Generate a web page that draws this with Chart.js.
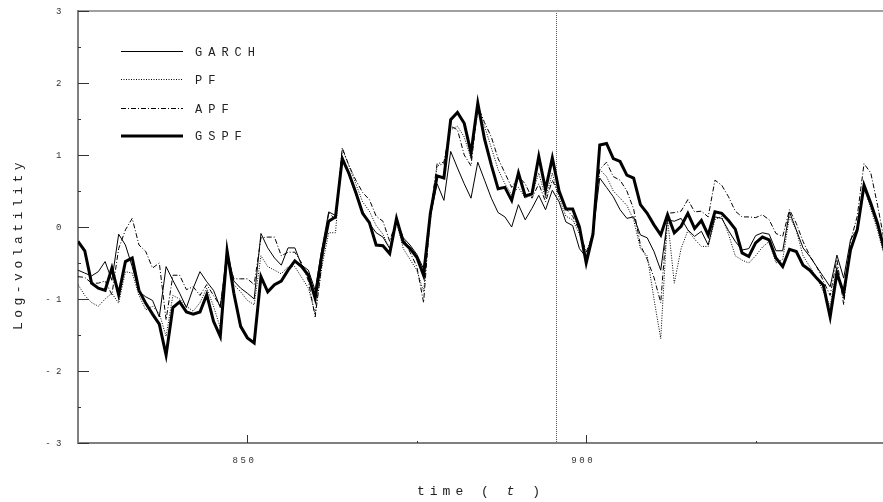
<!DOCTYPE html>
<html>
<head>
<meta charset="utf-8">
<script src="https://cdn.jsdelivr.net/npm/chart.js@4.4.1/dist/chart.umd.min.js"></script>
<style>
  html, body { margin:0; padding:0; background:#fff; overflow:hidden; }
  #wrap { position:relative; width:883px; height:502px; }
</style>
</head>
<body>
<div id="wrap"><canvas id="chartVol"></canvas></div>
<script>
// time axis starts at t = 825, one observation per step
const tStart = 825;
const xTicks = [850, 900];
const xMinorTicks = [875, 925];
const yTicks = [-3, -2, -1, 0, 1, 2, 3];
const yMinorTicks = [-2.5, -1.5, -0.5, 0.5, 1.5, 2.5];
const splitAt = 895.5;

const garch = [
  -0.60, -0.64, -0.68, -0.62, -0.48, -0.74, -0.10, -0.25, -0.55, -0.90,
  -0.97, -1.02, -1.25, -0.55, -0.74, -0.92, -1.12, -0.85, -0.62, -0.76,
  -0.88, -1.12, -0.32, -0.75, -0.85, -0.92, -1.00, -0.09, -0.29, -0.43,
  -0.53, -0.29, -0.29, -0.53, -0.60, -0.88, -0.30, 0.21, 0.16, 0.98,
  0.72, 0.45, 0.22, 0.05, -0.08, -0.14, -0.30, 0.10, -0.15, -0.25,
  -0.38, -0.58, 0.15, 0.60, 0.37, 1.05, 0.82, 0.60, 0.40, 0.90,
  0.65, 0.40, 0.20, 0.14, 0.00, 0.31, 0.10, 0.26, 0.44, 0.24,
  0.51, 0.35, 0.07, 0.02, -0.30, -0.42, -0.09, 0.68, 0.55, 0.42,
  0.24, 0.12, 0.14, -0.11, -0.15, -0.34, -0.60, 0.10, 0.08, 0.12,
  -0.04, -0.13, -0.06, -0.25, 0.14, 0.12, -0.05, -0.20, -0.32, -0.30,
  -0.12, -0.08, -0.10, -0.33, -0.33, 0.21, -0.04, -0.29, -0.41, -0.55,
  -0.69, -0.83, -0.39, -0.71, -0.18, -0.02, 0.54, 0.30, 0.02, -0.30
];
const pf = [
  -0.80, -0.95, -1.05, -1.10, -1.00, -0.92, -1.06, -0.62, -0.64, -0.95,
  -1.15, -1.10, -1.20, -1.52, -0.95, -1.00, -1.10, -1.17, -1.05, -0.85,
  -1.10, -1.40, -0.38, -0.80, -0.90, -1.02, -1.08, -0.40, -0.55, -0.60,
  -0.65, -0.55, -0.55, -0.70, -0.85, -1.20, -0.55, -0.08, -0.08, 1.08,
  0.85, 0.60, 0.35, 0.22, 0.02, -0.10, -0.30, 0.08, -0.30, -0.45,
  -0.60, -0.90, 0.10, 0.85, 0.88, 1.35, 1.40, 1.25, 0.95, 1.60,
  1.40, 1.10, 0.80, 0.60, 0.45, 0.55, 0.40, 0.45, 0.75, 0.40,
  0.75, 0.40, 0.15, 0.10, -0.10, -0.40, -0.05, 0.80, 0.70, 0.50,
  0.40, 0.30, 0.10, -0.30, -0.40, -1.00, -1.55, 0.12, -0.78, -0.30,
  -0.05, -0.17, -0.27, -0.27, 0.10, 0.15, -0.10, -0.40, -0.46, -0.50,
  -0.40, -0.28, -0.20, -0.50, -0.45, 0.15, -0.05, -0.40, -0.55, -0.70,
  -0.90, -1.10, -0.55, -1.00, -0.30, 0.00, 0.55, 0.25, -0.05, -0.40
];
const apf = [
  -0.69, -0.70, -0.78, -0.78, -0.75, -0.94, -0.30, -0.04, 0.12, -0.25,
  -0.34, -0.57, -0.50, -1.29, -0.67, -0.67, -0.87, -0.83, -0.95, -0.80,
  -0.95, -1.10, -0.40, -0.72, -0.72, -0.72, -0.80, -0.15, -0.14, -0.14,
  -0.40, -0.35, -0.35, -0.50, -0.75, -1.25, -0.50, 0.20, 0.10, 1.10,
  0.85, 0.65, 0.48, 0.38, 0.15, 0.08, -0.20, 0.10, -0.15, -0.35,
  -0.55, -1.05, 0.20, 0.88, 0.90, 1.40, 1.35, 1.00, 0.85, 1.68,
  1.45, 1.25, 0.95, 0.75, 0.55, 0.70, 0.60, 0.40, 0.60, 0.35,
  0.65, 0.45, 0.25, 0.15, -0.05, -0.35, -0.10, 0.80, 0.90, 0.70,
  0.65, 0.50, 0.25, -0.25, -0.45, -0.70, -1.05, 0.19, 0.20, 0.22,
  0.38, 0.21, 0.22, 0.14, 0.65, 0.58, 0.42, 0.22, 0.14, 0.14,
  0.13, 0.17, 0.10, -0.09, -0.13, 0.24, 0.05, -0.20, -0.40, -0.55,
  -0.75, -0.95, -0.45, -1.08, -0.20, 0.15, 0.88, 0.75, 0.30, -0.20
];
const gspf = [
  -0.20, -0.33, -0.78, -0.85, -0.88, -0.57, -0.94, -0.48, -0.43, -0.88,
  -1.06, -1.21, -1.35, -1.78, -1.12, -1.04, -1.18, -1.21, -1.18, -0.94,
  -1.31, -1.52, -0.33, -0.92, -1.38, -1.54, -1.61, -0.69, -0.90, -0.80,
  -0.75, -0.60, -0.47, -0.55, -0.67, -0.99, -0.38, 0.08, 0.14, 0.95,
  0.74, 0.48, 0.19, 0.06, -0.25, -0.26, -0.37, 0.12, -0.21, -0.30,
  -0.42, -0.67, 0.19, 0.71, 0.68, 1.49, 1.59, 1.44, 1.03, 1.72,
  1.22, 0.86, 0.53, 0.55, 0.37, 0.75, 0.43, 0.46, 0.98, 0.52,
  0.96, 0.50, 0.25, 0.25, 0.00, -0.50, -0.10, 1.14, 1.16, 0.95,
  0.91, 0.72, 0.68, 0.31, 0.19, 0.03, -0.11, 0.17, -0.08, 0.01,
  0.19, -0.02, 0.09, -0.11, 0.21, 0.19, 0.09, -0.03, -0.36, -0.41,
  -0.22, -0.14, -0.18, -0.43, -0.55, -0.31, -0.34, -0.53, -0.60, -0.71,
  -0.81, -1.25, -0.64, -0.92, -0.32, -0.04, 0.58, 0.33, 0.05, -0.32
];

const series = [
  { label:'GARCH', values:garch, width:1, dash:[] },
  { label:'PF',    values:pf,    width:1, dash:[1,1.5] },
  { label:'APF',   values:apf,   width:1, dash:[5,2,1,2] },
  { label:'GSPF',  values:gspf,  width:3, dash:[] }
];

const pts = vals => vals.map((v,i)=>({ x: tStart + i, y: v }));
const MONO = '"Liberation Mono", "DejaVu Sans Mono", monospace';

// axes furniture, split marker, legend and titles
const decor = {
  id:'decor',
  beforeDatasetsDraw(chart){
    const { ctx, chartArea:a, scales:{ x } } = chart;
    const px = x.getPixelForValue(splitAt);
    ctx.save();
    ctx.strokeStyle = '#555';
    ctx.lineWidth = 1;
    ctx.setLineDash([1,1]);
    ctx.beginPath();
    ctx.moveTo(Math.round(px)+0.5, a.top+2);
    ctx.lineTo(Math.round(px)+0.5, a.bottom);
    ctx.stroke();
    ctx.restore();
  },
  afterDraw(chart){
    const { ctx, chartArea:a, scales:{ x, y } } = chart;
    ctx.save();
    // top frame line
    ctx.strokeStyle = '#808080';
    ctx.lineWidth = 1.5;
    ctx.beginPath(); ctx.moveTo(a.left, a.top); ctx.lineTo(a.right, a.top); ctx.stroke();

    // inward tick marks
    ctx.strokeStyle = '#333';
    ctx.lineWidth = 1;
    yTicks.forEach(v=>{
      const py = Math.round(y.getPixelForValue(v))+0.5;
      ctx.beginPath(); ctx.moveTo(a.left, py); ctx.lineTo(a.left+11, py); ctx.stroke();
    });
    yMinorTicks.forEach(v=>{
      const py = Math.round(y.getPixelForValue(v))+0.5;
      ctx.beginPath(); ctx.moveTo(a.left, py); ctx.lineTo(a.left+3, py); ctx.stroke();
    });
    xTicks.forEach(v=>{
      const px = Math.round(x.getPixelForValue(v))+0.5;
      ctx.beginPath(); ctx.moveTo(px, a.bottom); ctx.lineTo(px, a.bottom-8); ctx.stroke();
    });
    xMinorTicks.forEach(v=>{
      const px = Math.round(x.getPixelForValue(v))+0.5;
      ctx.beginPath(); ctx.moveTo(px, a.bottom); ctx.lineTo(px, a.bottom-2); ctx.stroke();
    });

    // tick labels
    ctx.fillStyle = '#333';
    ctx.font = '9px ' + MONO;
    ctx.textAlign = 'right';
    ctx.textBaseline = 'middle';
    yTicks.forEach(v=>{
      const txt = v < 0 ? '- ' + (-v) : String(v);
      ctx.fillText(txt, a.left-16.5, y.getPixelForValue(v)+0.5);
    });
    ctx.textAlign = 'center';
    ctx.letterSpacing = '2.6px';
    xTicks.forEach(v=>{
      ctx.fillText(String(v), x.getPixelForValue(v)-3, a.bottom+18);
    });

    // legend
    const lx0 = 121, lx1 = 183, ly0 = 51, lstep = 28.4;
    series.forEach((s,i)=>{
      const ly = Math.round(ly0 + i*lstep) + (s.width===1 ? 0.5 : 0);
      ctx.strokeStyle = '#000';
      ctx.lineWidth = s.width;
      ctx.setLineDash(s.dash);
      ctx.beginPath(); ctx.moveTo(lx0, ly); ctx.lineTo(lx1, ly); ctx.stroke();
      ctx.setLineDash([]);
      ctx.fillStyle = '#222';
      ctx.font = '12px ' + MONO;
      ctx.letterSpacing = '6px';
      ctx.textAlign = 'left';
      ctx.textBaseline = 'middle';
      ctx.fillText(s.label, 195, ly+1);
    });

    // axis titles
    ctx.fillStyle = '#222';
    ctx.font = '13px ' + MONO;
    ctx.letterSpacing = '4.5px';
    ctx.textBaseline = 'alphabetic';
    ctx.save();
    ctx.translate(22, 244);
    ctx.rotate(-Math.PI/2);
    ctx.textAlign = 'center';
    ctx.fillText('Log-volatility', 0, 0);
    ctx.restore();

    ctx.letterSpacing = '5px';
    ctx.textAlign = 'left';
    const part1 = 'time ( ', part2 = 't', part3 = ' )';
    ctx.font = '13px ' + MONO;
    const w1 = ctx.measureText(part1).width;
    const w3 = ctx.measureText(part3).width;
    ctx.font = 'italic 13px ' + MONO;
    const w2 = ctx.measureText(part2).width;
    let tx = 481 - (w1 + w2 + w3)/2;
    const ty = 495;
    ctx.font = '13px ' + MONO;
    ctx.fillText(part1, tx, ty); tx += w1;
    ctx.font = 'italic 13px ' + MONO;
    ctx.fillText(part2, tx, ty); tx += w2;
    ctx.font = '13px ' + MONO;
    ctx.fillText(part3, tx, ty);
    ctx.restore();
  }
};

new Chart(document.getElementById('chartVol'), {
  type:'line',
  data:{
    datasets: series.map(s=>({
      label: s.label,
      data: pts(s.values),
      borderColor:'#000',
      borderWidth: s.width,
      borderDash: s.dash,
      pointRadius: 0,
      tension: 0,
      fill: false
    }))
  },
  options:{
    responsive:true,
    maintainAspectRatio:false,
    animation:false,
    events:[],
    layout:{ padding:{ top:11, right:0, left:0, bottom:0 } },
    plugins:{ legend:{ display:false }, tooltip:{ enabled:false } },
    scales:{
      x:{
        type:'linear', min:825, max:943.8,
        grid:{ display:false, drawTicks:false },
        border:{ display:true, color:'#808080', width:2 },
        ticks:{ display:false },
        afterFit: s => { s.height = 59; }
      },
      y:{
        type:'linear', min:-3, max:3,
        grid:{ display:false, drawTicks:false },
        border:{ display:true, color:'#808080', width:2 },
        ticks:{ display:false },
        afterFit: s => { s.width = 78; }
      }
    }
  },
  plugins:[decor]
});
</script>
</body>
</html>
